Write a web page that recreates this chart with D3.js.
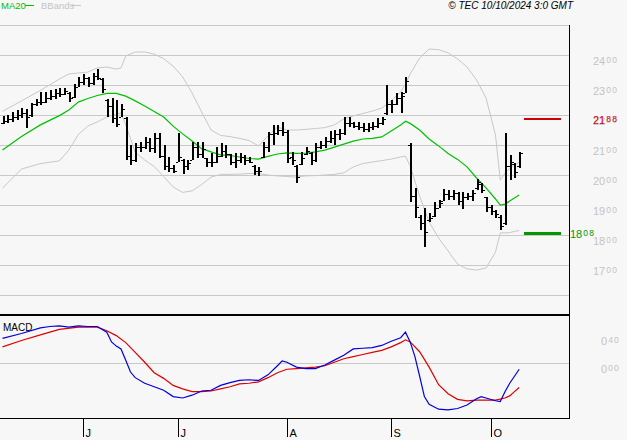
<!DOCTYPE html>
<html><head><meta charset="utf-8">
<script src="https://cdn.jsdelivr.net/npm/d3@7"></script>
<style>body{margin:0;background:#f7f7f7}svg{display:block}text{font-family:"Liberation Sans",Arial,sans-serif}</style>
</head><body><svg id="c" width="627" height="440"></svg>
<script>
// ---- OHLC data (daily bars, 9 May – 9 Oct 2024) ----
const opens=[21.75,21.80,21.85,21.95,22.00,22.05,22.00,22.35,22.45,22.45,22.55,22.65,22.75,22.70,22.75,22.60,22.95,23.10,23.25,23.05,23.30,23.20,22.50,22.30,21.90,21.95,21.90,20.65,20.50,20.95,20.95,21.10,20.90,21.25,20.65,20.30,20.25,20.45,20.50,20.30,20.50,20.95,20.70,20.55,20.45,20.45,20.65,20.80,20.70,20.45,20.50,20.60,20.50,20.30,20.15,20.60,20.95,21.35,21.40,21.50,21.45,20.60,20.30,20.35,20.70,20.75,20.50,20.95,21.00,21.15,21.25,21.35,21.40,21.75,21.75,21.65,21.60,21.55,21.60,21.65,21.75,22.05,22.35,22.35,22.55,22.75,21.00,19.30,18.60,18.40,18.50,18.65,18.90,19.15,19.35,19.30,19.40,19.15,19.25,19.30,19.55,19.70,19.25,18.95,18.80,18.60,18.40,20.30,20.35,20.30];
const highs=[21.98,22.00,22.11,22.17,22.23,22.20,22.40,22.53,22.78,22.78,22.83,22.87,22.90,22.90,22.78,23.03,23.28,23.37,23.28,23.40,23.53,23.23,22.52,22.56,22.50,22.37,21.94,21.00,21.06,21.11,21.26,21.22,21.39,21.39,21.00,20.61,20.33,21.41,20.52,20.50,21.11,21.11,21.11,20.56,20.72,20.94,21.06,21.00,20.70,20.72,20.72,20.67,20.61,20.33,20.28,21.11,21.44,21.67,21.67,21.76,21.50,20.78,20.33,20.78,20.94,20.78,21.08,21.14,21.28,21.48,21.50,21.52,21.92,21.94,21.78,21.78,21.72,21.72,21.78,21.89,21.94,23.00,22.50,22.72,22.78,23.28,21.06,19.56,18.67,18.89,18.72,19.11,19.17,19.52,19.50,19.50,19.44,19.44,19.39,19.50,19.86,19.72,19.28,19.00,18.83,18.67,21.41,20.67,20.39,20.78];
const lows=[21.70,21.72,21.78,21.83,21.90,21.57,21.93,22.31,22.33,22.39,22.50,22.53,22.61,22.67,22.43,22.57,22.94,23.00,22.94,23.00,23.17,22.72,21.94,21.74,21.61,21.94,20.50,20.33,20.44,20.78,20.86,20.78,20.72,20.56,20.17,20.11,20.06,20.44,20.03,20.17,20.50,20.56,20.56,20.28,20.28,20.39,20.61,20.56,20.33,20.22,20.39,20.33,20.39,20.00,19.98,20.56,20.78,21.00,21.33,21.30,20.39,20.33,19.72,20.33,20.67,20.33,20.44,20.86,20.89,21.06,21.00,21.17,21.33,21.61,21.56,21.50,21.44,21.44,21.50,21.56,21.67,22.00,22.06,22.33,22.06,22.72,19.10,18.56,18.17,17.61,18.44,18.61,18.89,19.14,19.17,19.17,19.00,18.87,19.17,19.14,19.50,19.39,18.78,18.67,18.56,18.17,18.33,19.83,19.89,20.22];
const closes=[21.80,21.85,21.95,22.00,22.05,21.95,22.35,22.45,22.45,22.55,22.65,22.75,22.70,22.80,22.55,22.95,23.10,23.25,23.05,23.30,23.25,22.85,22.30,21.90,21.70,22.20,20.65,20.50,20.95,20.95,21.10,20.90,21.25,20.65,20.30,20.25,20.15,20.60,20.30,20.40,20.95,20.70,20.85,20.45,20.45,20.65,20.80,20.70,20.45,20.50,20.60,20.50,20.45,20.15,20.15,20.95,21.35,21.40,21.50,21.45,20.55,20.50,19.95,20.55,20.80,20.50,20.95,21.00,21.15,21.25,21.35,21.40,21.75,21.75,21.65,21.60,21.55,21.60,21.65,21.75,21.85,22.35,22.35,22.55,22.65,23.15,19.30,18.95,18.40,18.10,18.55,18.90,19.05,19.35,19.30,19.40,19.15,19.25,19.30,19.40,19.75,19.50,18.95,18.80,18.70,18.30,20.30,20.45,20.10,20.75];

// ---- MA20 (by bar index) ----
const maIdx=[0,4,8,12,14,16,18,20,22,24,26,28,30,32,34,36,38,40,42,44,46,48,50,52,54,56,58,60,62,64,66,68,70,72,74,76,78,80,82,84,85,86,88,90,92,94,96,98,100,102,104,105,106,107,108,109];
const maVals=[20.83,21.28,21.67,21.98,22.17,22.43,22.55,22.65,22.72,22.72,22.63,22.47,22.30,22.12,21.93,21.63,21.37,21.13,20.88,20.77,20.67,20.65,20.60,20.55,20.53,20.62,20.70,20.74,20.72,20.73,20.77,20.83,20.93,21.03,21.13,21.20,21.22,21.27,21.47,21.67,21.79,21.72,21.50,21.20,20.97,20.72,20.52,20.27,19.90,19.57,19.20,19.00,19.03,19.13,19.23,19.33];

// ---- Bollinger bands ----
const bbIdx=[0,4,8,12,14,16,18,20,22,24,25,26,28,30,32,34,36,38,40,42,44,46,48,50,52,54,56,58,60,62,64,66,68,70,72,74,76,78,80,82,84,85,86,88,90,92,94,96,98,100,102,104,105,106,107,108,109];
const bbUpper=[22.12,22.47,22.82,23.20,23.37,23.40,23.43,23.57,23.60,23.53,23.57,23.97,24.10,24.10,24.03,23.88,23.63,23.27,22.73,22.10,21.50,21.32,21.28,21.22,21.15,20.97,21.30,21.60,21.50,21.50,21.52,21.55,21.58,21.67,21.87,21.97,22.05,22.13,22.23,22.47,22.77,23.03,23.37,23.90,24.20,24.18,24.07,23.87,23.60,23.17,22.57,21.33,19.83,20.07,20.22,20.32,20.43];
const bbLower=[19.56,20.20,20.38,20.47,20.83,21.35,21.63,21.77,21.93,22.03,22.07,21.67,20.75,20.50,20.28,19.95,19.60,19.42,19.47,19.68,19.93,20.02,20.02,20.03,20.05,20.05,20.00,19.97,19.95,19.93,19.97,19.98,20.00,20.02,20.07,20.27,20.38,20.43,20.48,20.53,20.60,20.63,20.30,19.30,18.43,17.90,17.47,17.03,16.87,16.83,16.90,17.43,18.07,18.07,18.08,18.12,18.15];

// ---- MACD ----
const macdIdx=[0,4,8,10,12,14,16,18,20,22,23,24,25,26,27,28,30,32,34,36,38,40,42,44,46,48,50,52,54,56,58,59,60,62,64,66,68,70,72,74,76,78,80,82,84,85,86,87,88,89,90,92,94,96,98,100,101,102,104,105,106,107,108,109];
const macdVals=[0.35,0.42,0.50,0.52,0.53,0.51,0.53,0.52,0.52,0.44,0.30,0.24,0.20,0.04,-0.13,-0.21,-0.29,-0.34,-0.39,-0.48,-0.50,-0.46,-0.40,-0.39,-0.32,-0.28,-0.25,-0.24,-0.25,-0.17,-0.04,0.03,0.01,-0.06,-0.08,-0.08,-0.03,0.04,0.11,0.20,0.21,0.22,0.25,0.31,0.36,0.44,0.30,0.09,-0.19,-0.48,-0.59,-0.66,-0.67,-0.65,-0.60,-0.51,-0.48,-0.50,-0.54,-0.55,-0.41,-0.29,-0.19,-0.09];
const sigIdx=[0,4,8,12,16,20,22,24,26,28,30,32,34,36,38,40,42,44,46,48,50,52,54,56,58,60,62,64,66,68,70,72,74,76,78,80,82,84,85,86,88,90,92,94,96,98,100,102,104,106,107,108,109];
const sigVals=[0.23,0.32,0.40,0.48,0.51,0.51,0.46,0.39,0.29,0.15,0.01,-0.14,-0.22,-0.32,-0.37,-0.41,-0.41,-0.40,-0.37,-0.34,-0.30,-0.29,-0.27,-0.21,-0.14,-0.09,-0.08,-0.07,-0.06,-0.04,0.01,0.06,0.09,0.12,0.15,0.18,0.23,0.29,0.33,0.30,0.16,-0.06,-0.31,-0.44,-0.52,-0.54,-0.53,-0.53,-0.53,-0.50,-0.47,-0.41,-0.35];

// ---- axes ----
const priceTicks=[24,23,22,21,20,19,18,17];
const gridLevels=[25,24,23,22,21,20,19,18,17,16];
const macdTicks=[0.40,0.00];
const monthIdx=[17,37,60,82,103];
const monthLabels=["J","J","A","S","O"];
const resistance=21.88, support=18.08;

const svg=d3.select("#c");
svg.append("rect").attr("width",627).attr("height",440).attr("fill","#f7f7f7");

const x=d3.scaleLinear().domain([0,109]).range([2.5,519.2]);
const y=d3.scaleLinear().domain([16,25]).range([295,25]);
const ym=d3.scaleLinear().domain([-0.80,0.67]).range([419,316]);
const R=569;

// grid
svg.append("g").selectAll("line").data(gridLevels).join("line")
  .attr("x1",0).attr("x2",R).attr("y1",d=>Math.round(y(d))+0.5).attr("y2",d=>Math.round(y(d))+0.5)
  .attr("stroke","#c8c8c8").attr("stroke-width",1);

function splitLabel(g,v,xx,yy,color){
  const parts=v.toFixed(2).split(".");
  const t=g.append("text").attr("x",xx).attr("y",yy).attr("fill",color).style("font-size","11px");
  t.append("tspan").text(parts[0]);
  t.append("tspan").text(parts[1]).style("font-size","8.5px").attr("dx",1).attr("dy",-2).style("letter-spacing","1.2px");
}
const lab=svg.append("g");
priceTicks.forEach(p=>splitLabel(lab,p,593,Math.round(y(p))+10,"#c4c4c4"));
macdTicks.forEach(v=>splitLabel(lab,v,601,Math.round(ym(v))+10,"#c4c4c4"));

// bands
const line=(idx,vals,sc)=>d3.line().x((d,i)=>x(idx[i])).y(d=>sc(d))(vals);
svg.append("path").attr("d",line(bbIdx,bbUpper,y)).attr("fill","none").attr("stroke","#c8c8c8").attr("stroke-width",1);
svg.append("path").attr("d",line(bbIdx,bbLower,y)).attr("fill","none").attr("stroke","#c8c8c8").attr("stroke-width",1);
svg.append("path").attr("d",line(maIdx,maVals,y)).attr("fill","none").attr("stroke","#00c000").attr("stroke-width",1.2);

// bars
const bars=svg.append("g").attr("fill","#000").attr("shape-rendering","crispEdges");
d3.range(opens.length).forEach(i=>{
  const cx=Math.round(x(i));
  bars.append("rect").attr("x",cx).attr("width",2).attr("y",Math.round(y(highs[i]))).attr("height",Math.max(1,Math.round(y(lows[i]))-Math.round(y(highs[i]))));
  bars.append("rect").attr("x",cx-2).attr("width",2).attr("y",Math.round(y(opens[i]))).attr("height",1);
  bars.append("rect").attr("x",cx+2).attr("width",2).attr("y",Math.round(y(closes[i]))).attr("height",1);
});

// levels
svg.append("rect").attr("x",524).attr("width",37).attr("y",Math.round(y(resistance))-1).attr("height",2).attr("fill","#cc0000");
svg.append("rect").attr("x",524).attr("width",37).attr("y",Math.round(y(support))-1).attr("height",3).attr("fill","#009900");
splitLabel(lab,resistance,593,Math.round(y(resistance))+5,"#cc0000");
splitLabel(lab,support,570,Math.round(y(support))+5,"#009900");

// panel borders
svg.append("rect").attr("x",0).attr("y",314).attr("width",R+1).attr("height",2).attr("fill","#000");
svg.append("line").attr("x1",0).attr("x2",R).attr("y1",418.5).attr("y2",418.5).attr("stroke","#000");
svg.append("line").attr("x1",R+0.5).attr("x2",R+0.5).attr("y1",25).attr("y2",419).attr("stroke","#000");

// MACD panel
svg.append("line").attr("x1",0).attr("x2",R).attr("y1",Math.round(ym(0))+0.5).attr("y2",Math.round(ym(0))+0.5).attr("stroke","#c8c8c8");
svg.append("path").attr("d",line(sigIdx,sigVals,ym)).attr("fill","none").attr("stroke","#dd0000").attr("stroke-width",1.2);
svg.append("path").attr("d",line(macdIdx,macdVals,ym)).attr("fill","none").attr("stroke","#0000dd").attr("stroke-width",1.2);
svg.append("text").attr("x",3).attr("y",331).text("MACD").style("font-size","10px").attr("fill","#000");

// x axis
const xa=svg.append("g");
monthIdx.forEach((m,i)=>{
  const cx=Math.round(x(m))+0.5;
  xa.append("line").attr("x1",cx).attr("x2",cx).attr("y1",419).attr("y2",437).attr("stroke","#000");
  xa.append("text").attr("x",cx+2).attr("y",437).text(monthLabels[i]).style("font-size","11px").attr("fill","#000");
});

// legend & title
svg.append("text").attr("x",1).attr("y",9).text("MA20").style("font-size","9.5px").attr("fill","#00c000");
svg.append("line").attr("x1",25).attr("x2",34).attr("y1",5.5).attr("y2",5.5).attr("stroke","#00c000");
svg.append("text").attr("x",41).attr("y",9).text("BBands").style("font-size","9.5px").attr("fill","#c4c4c4");
svg.append("line").attr("x1",72).attr("x2",81).attr("y1",5.5).attr("y2",5.5).attr("stroke","#c8c8c8");
svg.append("text").attr("x",573).attr("y",9).attr("text-anchor","end").text("© TEC 10/10/2024 3:0 GMT").style("font-size","10px").style("font-style","italic").attr("fill","#000");
</script></body></html>
